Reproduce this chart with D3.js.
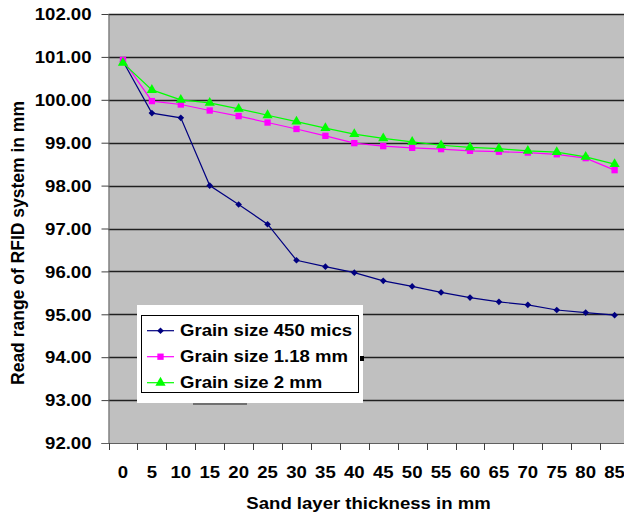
<!DOCTYPE html>
<html>
<head>
<meta charset="utf-8">
<script src="https://cdn.jsdelivr.net/npm/d3@7"></script>
<style>
  html, body { margin: 0; padding: 0; background: #fff; }
  svg { display: block; }
  text { font-family: Arial, "Liberation Sans", sans-serif; font-weight: bold; fill: #000; }
</style>
</head>
<body>
<svg id="chart" width="624" height="518"></svg>
<script>
// ---- data ----
const categories = ["0","5","10","15","20","25","30","35","40","45","50","55","60","65","70","75","80","85"];
const grain450 = [100.90, 99.69, 99.58, 98.00, 97.56, 97.10, 96.26, 96.11, 95.97, 95.78, 95.65, 95.51, 95.39, 95.29, 95.22, 95.10, 95.04, 94.98];
const grain118 = [100.93, 99.97, 99.89, 99.75, 99.62, 99.47, 99.32, 99.16, 98.99, 98.92, 98.88, 98.85, 98.81, 98.79, 98.77, 98.73, 98.64, 98.36];
const grain2   = [100.86, 100.23, 100.00, 99.93, 99.79, 99.64, 99.49, 99.34, 99.20, 99.10, 99.02, 98.94, 98.89, 98.86, 98.81, 98.78, 98.67, 98.50];
const seriesNames = ["Grain size 450 mics", "Grain size 1.18 mm", "Grain size 2 mm"];
const yTicks = [92, 93, 94, 95, 96, 97, 98, 99, 100, 101, 102];
const xTitle = "Sand layer thickness in mm";
const yTitle = "Read range of RFID system in mm";

// ---- styles ----
const colors = ["#000080", "#FF00FF", "#00FF00"];
const symbols = [d3.symbolDiamond2 || d3.symbolDiamond, d3.symbolSquare, d3.symbolTriangle];
const symSizes = [28, 40, 45];
const SX = 1.16;

const svg = d3.select("#chart");
const pLeft = 108.5, pTop = 14, pBottom = 443, band = 28.92;
const x = d3.scaleBand().domain(categories).range([pLeft, pLeft + band * categories.length]).padding(0);
const y = d3.scaleLinear().domain([92, 102]).range([pBottom, pTop]);
const cx = c => x(c) + x.bandwidth() / 2;

// plot area
svg.append("rect").attr("x", pLeft).attr("y", pTop)
  .attr("width", x.range()[1] - pLeft).attr("height", pBottom - pTop)
  .attr("fill", "#C0C0C0");

// gridlines
svg.append("g").selectAll("line").data(yTicks.filter(d => d > 92)).join("line")
  .attr("x1", pLeft).attr("x2", x.range()[1])
  .attr("y1", d => Math.round(y(d)) + 0.5).attr("y2", d => Math.round(y(d)) + 0.5)
  .attr("stroke", "#202020").attr("stroke-width", 1.3);

// y axis
const yAxis = svg.append("g").attr("transform", `translate(${pLeft},0)`)
  .call(d3.axisLeft(y).tickValues(yTicks).tickSize(7).tickSizeOuter(0).tickFormat(d3.format(".2f")));
yAxis.select(".domain").attr("stroke", "#606060");
yAxis.selectAll(".tick line").attr("stroke", "#404040");
yAxis.selectAll(".tick text")
  .attr("x", null).attr("dy", "0.36em")
  .attr("transform", `translate(-17,0) scale(${SX},1)`)
  .attr("text-anchor", "end")
  .style("font-size", "16px").style("font-family", "Arial, 'Liberation Sans', sans-serif").style("font-weight", "bold");

// x axis (labels centered, ticks at band boundaries)
const xAxis = svg.append("g").attr("transform", `translate(0,${pBottom})`)
  .call(d3.axisBottom(x).tickSize(0).tickSizeOuter(0));
xAxis.select(".domain").remove();
xAxis.append("line").attr("x1", pLeft - 7).attr("x2", x.range()[1]).attr("y1", 0.5).attr("y2", 0.5)
  .attr("stroke", "#606060");
xAxis.selectAll(".tick text")
  .attr("y", null).attr("dy", "0.36em")
  .attr("transform", `translate(0,29) scale(${SX},1)`)
  .style("font-size", "16px").style("font-family", "Arial, 'Liberation Sans', sans-serif").style("font-weight", "bold");
const bounds = categories.map(c => x(c));
xAxis.append("g").selectAll("line").data(bounds).join("line")
  .attr("x1", d => Math.round(d) + 0.5).attr("x2", d => Math.round(d) + 0.5)
  .attr("y1", 0).attr("y2", 7).attr("stroke", "#404040");

// axis titles
svg.append("text")
  .attr("transform", `translate(368.5,503) scale(${SX},1)`)
  .attr("text-anchor", "middle").attr("dy", "0.36em")
  .style("font-size", "16px").text(xTitle);
svg.append("text")
  .attr("transform", `translate(18,243) rotate(-90)`)
  .attr("text-anchor", "middle").attr("dy", "0.36em")
  .style("font-size", "17.5px").text(yTitle);

// series
const allSeries = [grain450, grain118, grain2];
const line = d3.line().x((d, i) => cx(categories[i])).y(d => y(d));
allSeries.forEach((vals, k) => {
  const g = svg.append("g");
  g.append("path").datum(vals).attr("d", line)
    .attr("fill", "none").attr("stroke", colors[k]).attr("stroke-width", 1.2);
  g.selectAll("path.m").data(vals).join("path").attr("class", "m")
    .attr("transform", (d, i) => `translate(${cx(categories[i])},${y(d)})`)
    .attr("d", d3.symbol().type(symbols[k]).size(symSizes[k]))
    .attr("fill", colors[k]);
});

// legend
const lg = svg.append("g");
lg.append("rect").attr("x", 137).attr("y", 305).attr("width", 226).attr("height", 98).attr("fill", "#fff");
lg.append("rect").attr("x", 141.5).attr("y", 315.5).attr("width", 217).attr("height", 77)
  .attr("fill", "none").attr("stroke", "#000").attr("stroke-width", 1);
// small artifacts seen in reference
lg.append("rect").attr("x", 360).attr("y", 356).attr("width", 4).attr("height", 5).attr("fill", "#000");
lg.append("rect").attr("x", 193).attr("y", 403).attr("width", 54).attr("height", 2).attr("fill", "#707070");
const rowsY = [330.7, 356.7, 382.7];
seriesNames.forEach((name, k) => {
  const ry = rowsY[k];
  lg.append("line").attr("x1", 147).attr("x2", 174).attr("y1", ry).attr("y2", ry)
    .attr("stroke", colors[k]).attr("stroke-width", 1.2);
  lg.append("path").attr("transform", `translate(160.5,${ry})`)
    .attr("d", d3.symbol().type(symbols[k]).size(symSizes[k])).attr("fill", colors[k]);
  lg.append("text").attr("transform", `translate(180,${ry}) scale(${SX},1)`)
    .attr("dy", "0.36em").style("font-size", "16px").text(name);
});
</script>
</body>
</html>
